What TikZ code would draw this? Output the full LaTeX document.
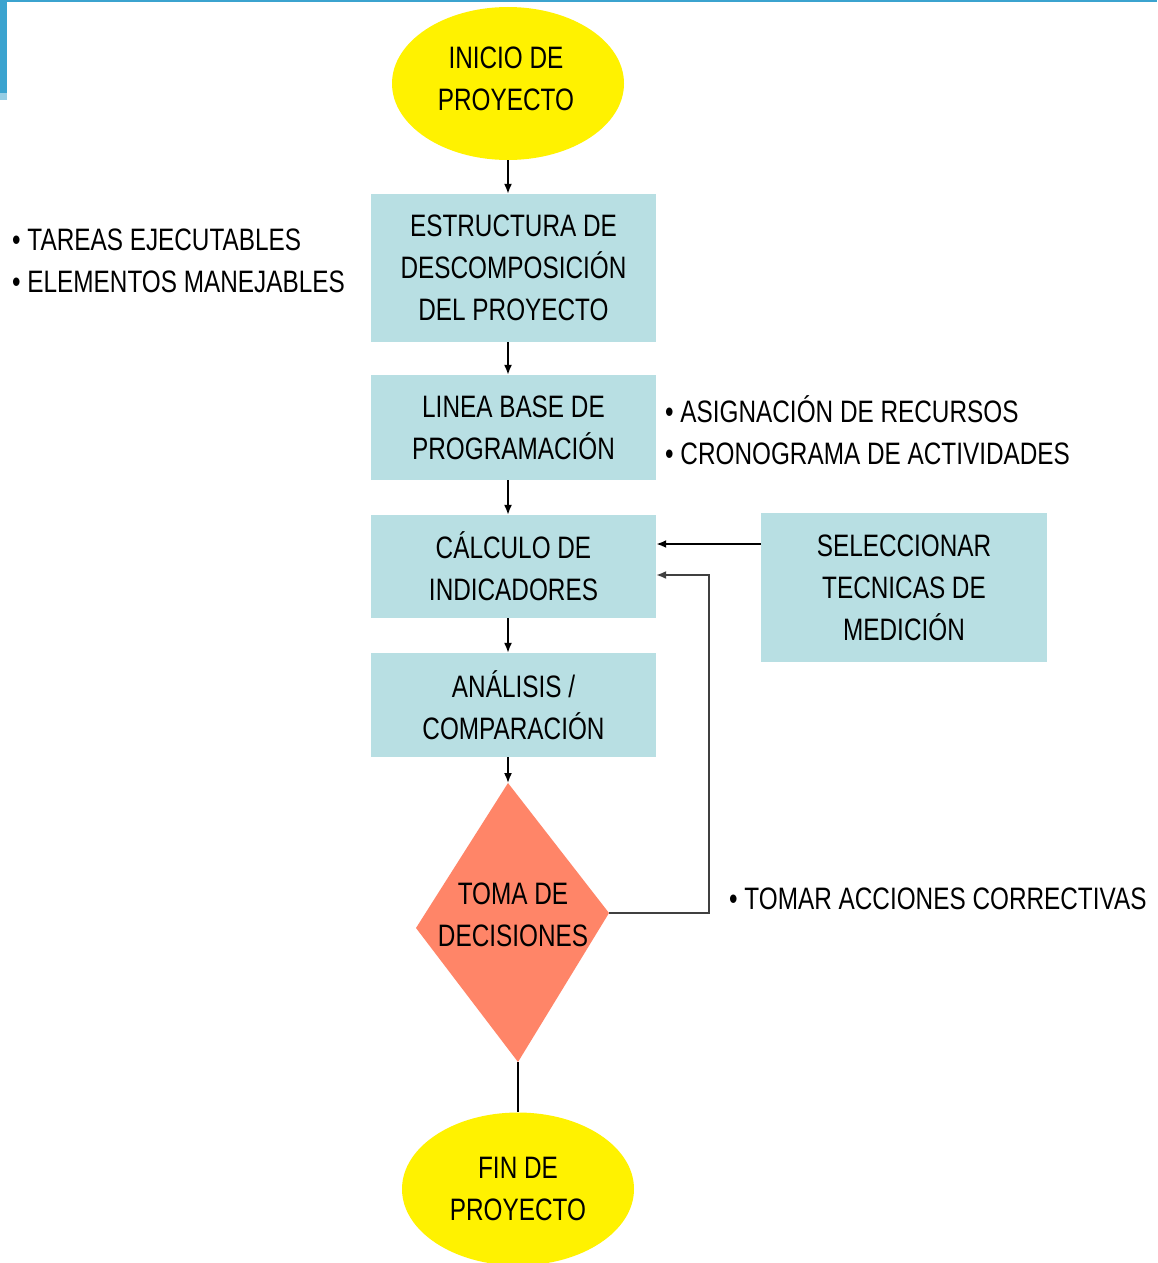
\documentclass[tikz,border=0pt]{standalone}
\usepackage{fontspec}
\setmainfont{Liberation Sans}[FakeStretch=0.785]
\usetikzlibrary{shapes.geometric,arrows.meta,calc}
\definecolor{boxfill}{RGB}{184,223,227}
\definecolor{decfill}{RGB}{255,133,104}
\definecolor{barblue}{RGB}{59,163,207}
\definecolor{barlight}{RGB}{150,205,228}
\begin{document}
\begin{tikzpicture}[x=1pt,y=-1pt,
  txt/.style={font=\fontsize{31}{42}\selectfont, align=center, text=black},
  stepbox/.style={txt, rectangle, fill=boxfill, minimum width=285pt, inner sep=0pt},
  terminal/.style={txt, ellipse, fill=yellow, minimum width=232pt, minimum height=153pt, inner sep=0pt},
  note/.style={font=\fontsize{31}{42}\selectfont, align=left, anchor=west, inner sep=0pt},
  arr/.style={-{Latex[length=10pt,width=8pt]}, line width=1.6pt, black},
  loopline/.style={-{Latex[length=10pt,width=8pt]}, line width=1.6pt, black!75}
]
\useasboundingbox (0,0) rectangle (1157,1263);
\fill[white] (0,0) rectangle (1157,1263);

% slide frame remnants
\fill[barblue] (0,0) rectangle (1157,2.5);
\fill[barblue] (0,0) rectangle (7,93);
\fill[barlight] (0,93) rectangle (7,100);

% main flow
\coordinate (axis) at (508,0);
\node[terminal] (inicio) at (508,83.5) {};
\node[txt, inner sep=0pt] at (506,79) {INICIO DE\\PROYECTO};
\node[stepbox, minimum height=148pt] (edp) at (513.5,268) {ESTRUCTURA DE\\DESCOMPOSICIÓN\\DEL PROYECTO};
\node[stepbox, minimum height=105pt] (base) at (513.5,427.5) {LINEA BASE DE\\PROGRAMACIÓN};
\node[stepbox, minimum height=103pt] (calc) at (513.5,566.5) {CÁLCULO DE\\INDICADORES};
\node[stepbox, minimum height=104pt] (anal) at (513.5,705) {ANÁLISIS /\\COMPARACIÓN};
\node[stepbox, minimum width=286pt, minimum height=149pt] (sel) at (904,587.5) {SELECCIONAR\\TECNICAS DE\\MEDICIÓN};

% decision diamond
\coordinate (dT) at (508,783);
\coordinate (dR) at (609,913);
\coordinate (dB) at (518,1062);
\coordinate (dL) at (416,928);
\fill[decfill] (dT) -- (dR) -- (dB) -- (dL) -- cycle;
\node[txt, inner sep=0pt] (dec) at (513,915) {TOMA DE\\DECISIONES};

\node[terminal] (fin) at (518,1189) {FIN DE\\PROYECTO};

% side notes
\node[note] (n1) at (12,261) {• TAREAS EJECUTABLES\\• ELEMENTOS MANEJABLES};
\node[note] (n2) at (665,430) {• ASIGNACIÓN DE RECURSOS\\• CRONOGRAMA DE ACTIVIDADES};
\node[note] (n3) at (729,899) {• TOMAR ACCIONES CORRECTIVAS};

% connectors
\draw[arr] (inicio.south -| axis) -- (edp.north -| axis);
\draw[arr] (edp.south -| axis) -- (base.north -| axis);
\draw[arr] (base.south -| axis) -- (calc.north -| axis);
\draw[arr] (calc.south -| axis) -- (anal.north -| axis);
\draw[arr] (anal.south -| axis) -- (dT);
\draw[line width=1.6pt] (dB) -- (fin.north -| dB);
\draw[-{Latex[length=10pt,width=8pt]}, line width=2.8pt] ($(sel.west)+(0,-43.5)$) -- ($(calc.east)+(0,-22.5)$);
\draw[loopline] (dR) -- (709,913) |- ($(calc.east)+(0,8.5)$);
\end{tikzpicture}
\end{document}
